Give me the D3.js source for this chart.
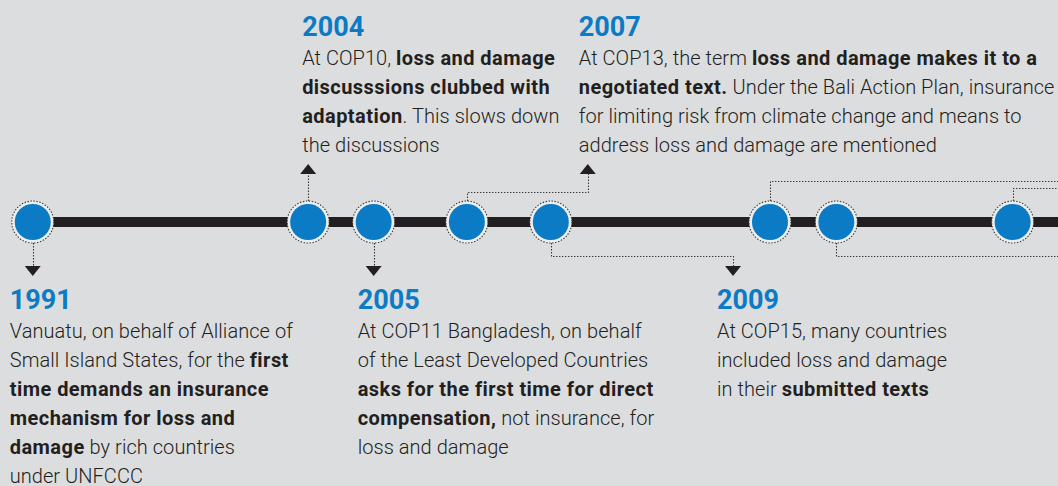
<!DOCTYPE html>
<html>
<head>
<meta charset="utf-8">
<script src="https://cdn.jsdelivr.net/npm/d3@7"></script>
<style>
  html, body { margin: 0; padding: 0; background: #dcdddf; }
  svg { display: block; }
  text { font-family: Roboto, "Noto Sans", sans-serif; }
</style>
</head>
<body>
<div id="canvas"></div>
<script>
"use strict"

/* ---------- data ---------- */
// node positions along the timeline, in timeline slots
let nodeSlots = [0.39, 3.67, 4.45, 5.56, 6.56, 9.17, 9.96, 12.06];
// which side each node's connector leaves from
let nodeSides = ["down", "up", "down", "up", "down", "up", "down", "up"];

// labelled milestones
let years = ["1991", "2004", "2005", "2007", "2009"];
let yearNode = [0, 1, 2, 3, 4];          // index of the node each year hangs from
let arrowSlots = [0.39, 3.67, 4.45, 7.0, 8.73];

// each line is a list of [text, bold?] runs
let descriptions = [
  [
    [["Vanuatu, on behalf of Alliance of", false]],
    [["Small Island States, for the ", false], ["first", true]],
    [["time demands an insurance", true]],
    [["mechanism for loss and", true]],
    [["damage", true], [" by rich countries", false]],
    [["under UNFCCC", false]]
  ],
  [
    [["At COP10, ", false], ["loss and damage", true]],
    [["discusssions clubbed with", true]],
    [["adaptation", true], [". This slows down", false]],
    [["the discussions", false]]
  ],
  [
    [["At COP11 Bangladesh, on behalf", false]],
    [["of the Least Developed Countries", false]],
    [["asks for the first time for direct", true]],
    [["compensation,", true], [" not insurance, for", false]],
    [["loss and damage", false]]
  ],
  [
    [["At COP13, the term ", false], ["loss and damage makes it to a", true]],
    [["negotiated text.", true], [" Under the Bali Action Plan, insurance", false]],
    [["for limiting risk from climate change and means to", false]],
    [["address loss and damage are mentioned", false]]
  ],
  [
    [["At COP15, many countries", false]],
    [["included loss and damage", false]],
    [["in their ", false], ["submitted texts", true]]
  ]
];

/* ---------- layout ---------- */
let width = 1058, height = 486;
let lineY = 222;
let rBlue = 18, rRing = 21;
let blue = "#0a7bc4", ink = "#231f20";

// text offset from the arrow for each milestone
let textDx = [-23, -6, -16, -9, -16];
// elbow heights for connectors (per node)
let elbowY = [null, null, null, 192, 256, 181, 256, 188];

let x = d3.scaleLinear().domain([0, 12.6]).range([0, width]);

let drawing = d3.select("#canvas")
  .append("svg")
  .attr("width", width)
  .attr("height", height);

drawing.append("rect")
  .attr("width", width).attr("height", height)
  .attr("fill", "#dcdddf");

/* main bar */
drawing.append("line")
  .attr("x1", x(nodeSlots[0])).attr("x2", width)
  .attr("y1", lineY).attr("y2", lineY)
  .attr("stroke", ink).attr("stroke-width", 10);

/* connectors */
let dots = { stroke: "#3a3a3a", width: 1.1, dash: "1.4,1.6" };
let connectors = drawing.append("g")
  .attr("fill", "none")
  .attr("stroke", dots.stroke)
  .attr("stroke-width", dots.width)
  .attr("stroke-dasharray", dots.dash);

let arrowUpBase = 174, arrowDownBase = 266;

nodeSlots.forEach(function (s, i) {
  let nx = Math.round(x(s)) + 0.5;
  let up = nodeSides[i] === "up";
  let y0 = up ? lineY - rRing : lineY + rRing;
  let yi = years.findIndex(function (d, k) { return yearNode[k] === i; });
  let path = d3.path();
  path.moveTo(nx, y0);
  if (yi < 0) {
    // connector runs off to the right edge
    path.lineTo(nx, elbowY[i] + 0.5);
    path.lineTo(width, elbowY[i] + 0.5);
  } else {
    let ax = Math.round(x(arrowSlots[yi])) + 0.5;
    let yEnd = up ? arrowUpBase : arrowDownBase;
    if (elbowY[i] !== null) {
      path.lineTo(nx, elbowY[i] + 0.5);
      path.lineTo(ax, elbowY[i] + 0.5);
    }
    path.lineTo(ax, yEnd);
  }
  connectors.append("path").attr("d", path.toString());
});

/* arrow heads */
years.forEach(function (y, k) {
  let ax = x(arrowSlots[k]);
  let up = nodeSides[yearNode[k]] === "up";
  let pts = up
    ? [[ax - 8, arrowUpBase], [ax + 8, arrowUpBase], [ax, arrowUpBase - 10]]
    : [[ax - 8, arrowDownBase], [ax + 8, arrowDownBase], [ax, arrowDownBase + 10]];
  drawing.append("polygon")
    .attr("points", pts.map(function (p) { return p.join(","); }).join(" "))
    .attr("fill", ink);
});

/* nodes */
let nodes = drawing.append("g").selectAll("g")
  .data(nodeSlots)
  .join("g")
  .attr("transform", function (d) { return "translate(" + x(d) + "," + lineY + ")"; });

nodes.append("circle")
  .attr("r", rRing)
  .attr("fill", "#eceded")
  .attr("stroke", dots.stroke)
  .attr("stroke-width", dots.width)
  .attr("stroke-dasharray", dots.dash);

nodes.append("circle")
  .attr("r", rBlue)
  .attr("fill", blue);

/* labels */
let lineGap = 29;
years.forEach(function (y, k) {
  let up = nodeSides[yearNode[k]] === "up";
  let tx = x(arrowSlots[k]) + textDx[k];
  let yearBase = up ? 36 : 309;

  drawing.append("text")
    .attr("x", tx).attr("y", yearBase)
    .attr("fill", blue)
    .attr("font-size", 27)
    .attr("font-weight", 700)
    .text(y);

  let body = drawing.append("text")
    .attr("fill", ink)
    .attr("font-size", 20);

  descriptions[k].forEach(function (runs, li) {
    runs.forEach(function (run, ri) {
      let t = body.append("tspan")
        .attr("font-weight", run[1] ? 700 : 300)
        .attr("letter-spacing", run[1] ? 0.45 : 0.05)
        .text(run[0]);
      if (ri === 0) {
        t.attr("x", tx).attr("y", yearBase + lineGap * (li + 1));
      }
    });
  });
});
</script>
</body>
</html>
